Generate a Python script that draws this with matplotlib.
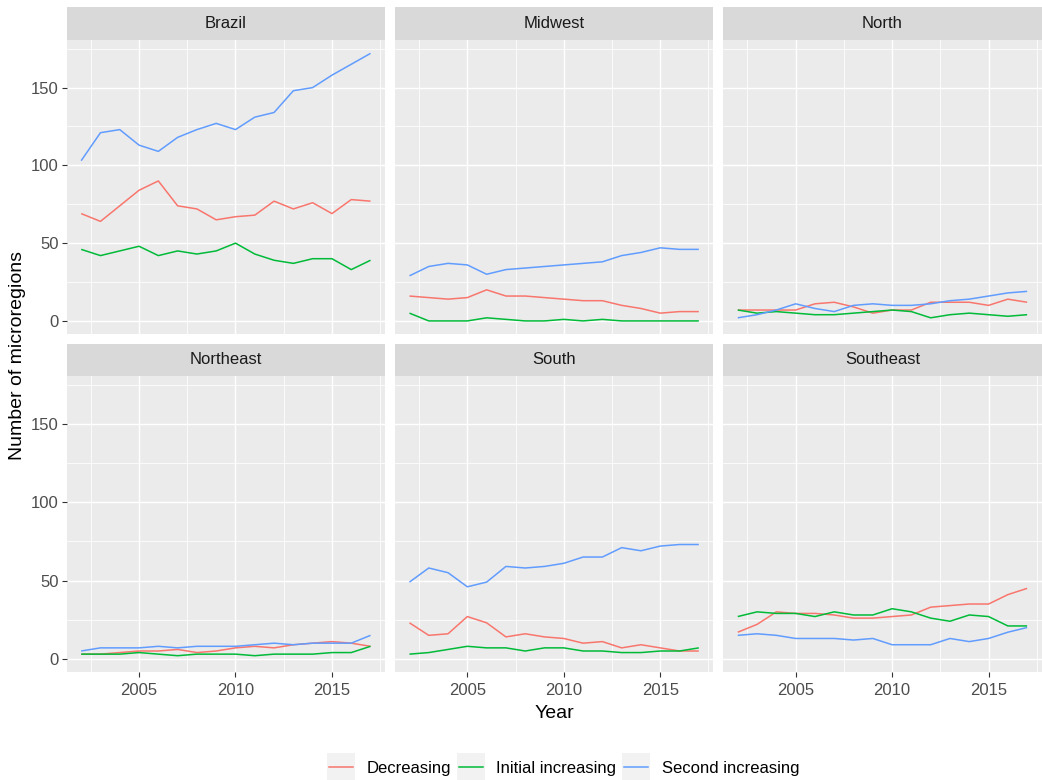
import matplotlib
matplotlib.use("Agg")
import matplotlib.pyplot as plt
from matplotlib.patches import Rectangle
from matplotlib.lines import Line2D

plt.rcParams['font.family'] = ['Liberation Sans', 'DejaVu Sans']

# ---- data -------------------------------------------------------------
years = list(range(2002, 2018))
regions = ["Brazil", "Midwest", "North", "Northeast", "South", "Southeast"]
series_names = ["Decreasing", "Initial increasing", "Second increasing"]
series_colors = ["#F8766D", "#00BA38", "#619CFF"]

brazil_decreasing = [69, 64, 74, 84, 90, 74, 72, 65, 67, 68, 77, 72, 76, 69, 78, 77]
brazil_initial = [46, 42, 45, 48, 42, 45, 43, 45, 50, 43, 39, 37, 40, 40, 33, 39]
brazil_second = [103, 121, 123, 113, 109, 118, 123, 127, 123, 131, 134, 148, 150, 158, 165, 172]

midwest_decreasing = [16, 15, 14, 15, 20, 16, 16, 15, 14, 13, 13, 10, 8, 5, 6, 6]
midwest_initial = [5, 0, 0, 0, 2, 1, 0, 0, 1, 0, 1, 0, 0, 0, 0, 0]
midwest_second = [29, 35, 37, 36, 30, 33, 34, 35, 36, 37, 38, 42, 44, 47, 46, 46]

north_decreasing = [7, 7, 7, 7, 11, 12, 9, 5, 7, 7, 12, 12, 12, 10, 14, 12]
north_initial = [7, 5, 6, 5, 4, 4, 5, 6, 7, 6, 2, 4, 5, 4, 3, 4]
north_second = [2, 4, 7, 11, 8, 6, 10, 11, 10, 10, 11, 13, 14, 16, 18, 19]

northeast_decreasing = [3, 3, 4, 5, 5, 6, 4, 5, 7, 8, 7, 9, 10, 11, 10, 8]
northeast_initial = [3, 3, 3, 4, 3, 2, 3, 3, 3, 2, 3, 3, 3, 4, 4, 8]
northeast_second = [5, 7, 7, 7, 8, 7, 8, 8, 8, 9, 10, 9, 10, 10, 10, 15]

south_decreasing = [23, 15, 16, 27, 23, 14, 16, 14, 13, 10, 11, 7, 9, 7, 5, 5]
south_initial = [3, 4, 6, 8, 7, 7, 5, 7, 7, 5, 5, 4, 4, 5, 5, 7]
south_second = [49, 58, 55, 46, 49, 59, 58, 59, 61, 65, 65, 71, 69, 72, 73, 73]

southeast_decreasing = [17, 22, 30, 29, 29, 28, 26, 26, 27, 28, 33, 34, 35, 35, 41, 45]
southeast_initial = [27, 30, 29, 29, 27, 30, 28, 28, 32, 30, 26, 24, 28, 27, 21, 21]
southeast_second = [15, 16, 15, 13, 13, 13, 12, 13, 9, 9, 9, 13, 11, 13, 17, 20]

x_major = [2005, 2010, 2015]
y_major = [0, 50, 100, 150]

table = {
    "Brazil": [brazil_decreasing, brazil_initial, brazil_second],
    "Midwest": [midwest_decreasing, midwest_initial, midwest_second],
    "North": [north_decreasing, north_initial, north_second],
    "Northeast": [northeast_decreasing, northeast_initial, northeast_second],
    "South": [south_decreasing, south_initial, south_second],
    "Southeast": [southeast_decreasing, southeast_initial, southeast_second],
}

# ---- layout (pixel units, origin top-left) ----------------------------
W, H = 1042, 780
fig = plt.figure(figsize=(W / 100, H / 100), dpi=100)


def frac(x0, y0, x1, y1):
    return [x0 / W, 1 - y1 / H, (x1 - x0) / W, (y1 - y0) / H]


col_left = [66.7, 395.0, 723.3]
col_w = 318.3
rows = [(7.0, 40.0, 334.3), (343.5, 376.0, 672.3)]  # strip top, body top, body bottom

all_vals = [v for r in regions for s in table[r] for v in s]
ylo, yhi = min(all_vals), max(all_vals)
ypad = 0.05 * (yhi - ylo)
xpad = 0.05 * (years[-1] - years[0])

panel_bg = "#EBEBEB"
strip_bg = "#D9D9D9"
text_grey = "#4D4D4D"

for i, region in enumerate(regions):
    r, c = divmod(i, 3)
    st, bt, bb = rows[r]
    x0 = col_left[c]
    x1 = x0 + col_w

    ax = fig.add_axes(frac(x0, bt, x1, bb))
    ax.set_facecolor(panel_bg)
    for sp in ax.spines.values():
        sp.set_visible(False)

    ax.set_xlim(years[0] - xpad, years[-1] + xpad)
    ax.set_ylim(ylo - ypad, yhi + ypad)
    ax.set_xticks(x_major)
    ax.set_yticks(y_major)
    ax.set_xticks([2002.5, 2007.5, 2012.5, 2017.5], minor=True)
    ax.set_yticks([25, 75, 125, 175], minor=True)
    ax.grid(which="major", color="white", linewidth=1.05, zorder=0)
    ax.grid(which="minor", color="white", linewidth=0.55, zorder=0)
    ax.set_axisbelow(True)

    ax.tick_params(which="minor", length=0)
    ax.tick_params(which="major", length=3.6, width=0.8, color="#333333",
                   labelsize=12, labelcolor=text_grey, pad=2)
    if r == 0:
        ax.tick_params(axis="x", which="major", length=0, labelbottom=False)
    else:
        ax.tick_params(axis="x", which="major", pad=4)
    if c != 0:
        ax.tick_params(axis="y", which="major", length=0, labelleft=False)

    for vals, color in zip(table[region], series_colors):
        ax.plot(years, vals, color=color, linewidth=1.1, zorder=3,
                solid_joinstyle="round", solid_capstyle="butt")

    sx = fig.add_axes(frac(x0, st, x1, bt))
    sx.set_facecolor(strip_bg)
    sx.set_xticks([])
    sx.set_yticks([])
    for sp in sx.spines.values():
        sp.set_visible(False)
    sx.text(0.5, 0.5, region, ha="center", va="center", fontsize=12,
            color="#1A1A1A", transform=sx.transAxes)

# axis titles
fig.text((col_left[0] + col_left[2] + col_w) / 2 / W, 1 - 713 / H, "Year",
         ha="center", va="center", fontsize=14)
fig.text(18 / W, 1 - 356 / H, "Number of microregions", rotation=90,
         ha="center", va="center", fontsize=14)

# legend along the bottom
lg = fig.add_axes([0, 0, 1, 1], facecolor="none")
lg.set_xlim(0, W)
lg.set_ylim(H, 0)
lg.axis("off")
key_x = [327, 456.5, 622]
text_x = [367, 496.5, 662]
key_top, key_size = 753, 27
for kx, tx, name, color in zip(key_x, text_x, series_names, series_colors):
    lg.add_patch(Rectangle((kx, key_top), key_size + 1, key_size,
                           facecolor="#F2F2F2", edgecolor="none"))
    lg.add_line(Line2D([kx + 2, kx + key_size - 1],
                       [key_top + key_size / 2, key_top + key_size / 2],
                       color=color, linewidth=1.1))
    lg.text(tx, 768, name, ha="left", va="center", fontsize=12, color="black")

fig.savefig("out.png", dpi=100)
